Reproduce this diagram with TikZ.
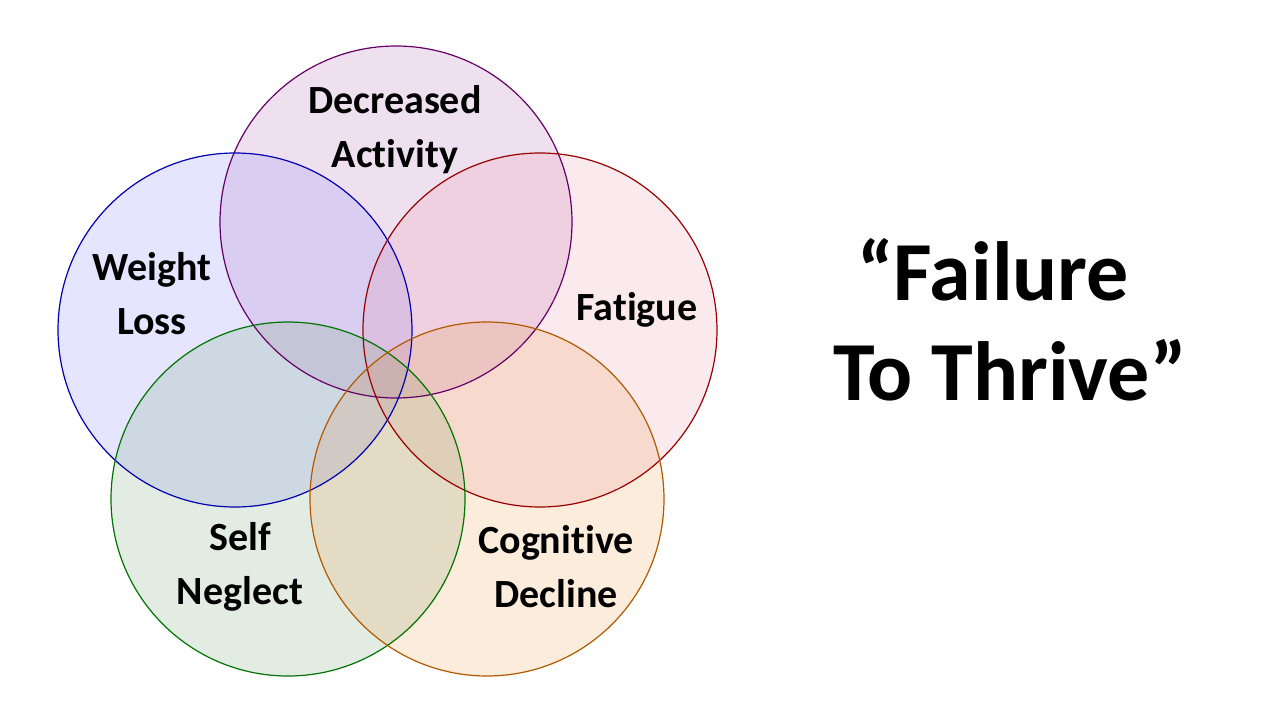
\documentclass[tikz,border=0pt]{standalone}
\usepackage{fontspec}
\setmainfont[Ligatures=NoCommon]{Carlito}
\begin{document}
\begin{tikzpicture}[x=1pt,y=-1pt,
  circ/.style={line width=1.2pt,fill opacity=0.22},
  lab/.style={font=\fontsize{40}{54}\selectfont\bfseries,align=center,text=black},
  big/.style={font=\fontsize{84}{100}\selectfont\bfseries,text=black}]
\useasboundingbox (0,0) rectangle (1280,720);
\fill[white] (0,0) rectangle (1280,720);
\fill[violet!55,opacity=0.22] (396,222) circle (176);
\fill[blue!45,opacity=0.22] (235,330) circle (177);
\fill[red!40!purple!50,opacity=0.16] (540,330) circle (177);
\fill[green!35!black!50,opacity=0.22] (288,499) circle (177);
\fill[orange!60!brown,opacity=0.15] (487,499) circle (177);
\draw[line width=1.2pt,draw=violet!80!black] (396,222) circle (176);
\draw[line width=1.2pt,draw=blue!70!black] (235,330) circle (177);
\draw[line width=1.2pt,draw=red!60!black] (540,330) circle (177);
\draw[line width=1.2pt,draw=green!45!black] (288,499) circle (177);
\draw[line width=1.2pt,draw=orange!70!black] (487,499) circle (177);
\node[lab] (da) at (395,130) {Decreased\\Activity};
\node[lab] (wl) at (152,294) {Weight\\Loss};
\node[lab] (fa) at (637,310) {Fatigue};
\node[lab] (sn) at (240,567) {Self\\Neglect};
\node[lab] (cd) at (556,567) {Cognitive\\Decline};
\node[big] (f1) at (993,270) {“Failure};
\node[big] (f2) at (1010,370) {To Thrive”};
\end{tikzpicture}
\end{document}
